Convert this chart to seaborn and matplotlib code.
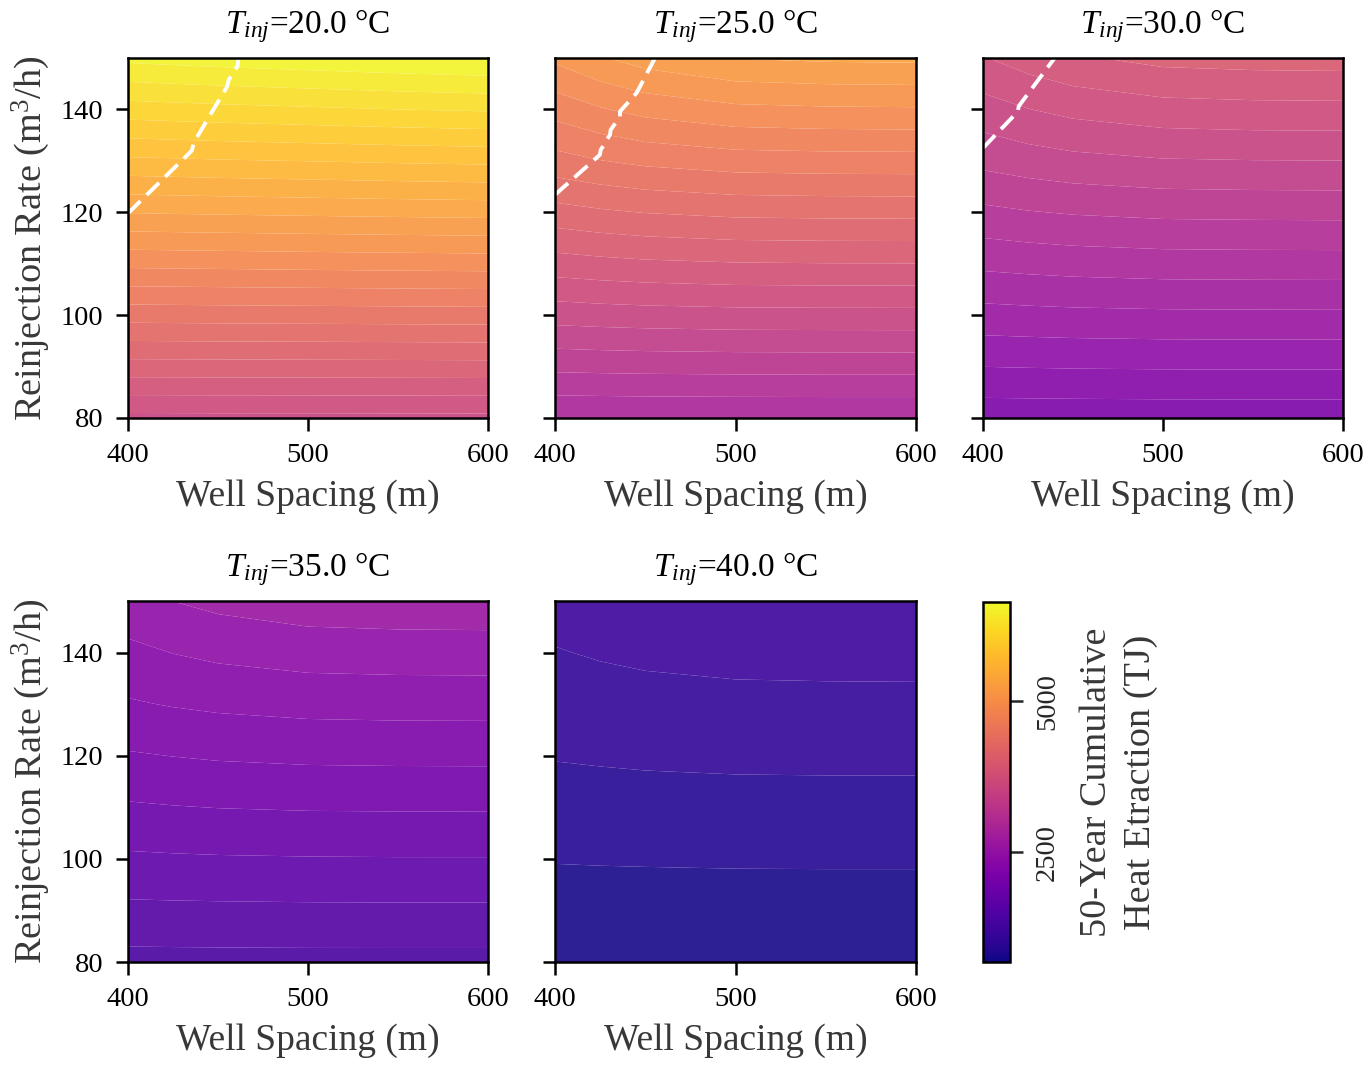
import numpy as np
import matplotlib
matplotlib.use("Agg")
import matplotlib.pyplot as plt
import matplotlib.colors as mcolors
import matplotlib.cm as mcm
import seaborn as sns

# ---------------- data ----------------
well_spacing = [400, 425, 450, 500, 550, 600]          # m
reinjection_rate = [80, 90, 100, 110, 120, 130, 140, 150]  # m3/h
injection_temps = [20.0, 25.0, 30.0, 35.0, 40.0]       # degC

# 50-year cumulative heat extraction (TJ); rows = rate, cols = spacing
heat_T20 = [
    [3543, 3544, 3545, 3545, 3546, 3547],
    [3983, 3984, 3985, 3987, 3989, 3991],
    [4416, 4419, 4422, 4426, 4430, 4434],
    [4848, 4852, 4856, 4864, 4871, 4877],
    [5278, 5285, 5291, 5302, 5312, 5321],
    [5701, 5710, 5720, 5735, 5751, 5764],
    [6121, 6134, 6147, 6169, 6191, 6208],
    [6538, 6555, 6572, 6600, 6628, 6651],
]
heat_T25 = [
    [2823, 2825, 2827, 2828, 2829, 2829],
    [3163, 3170, 3175, 3180, 3182, 3182],
    [3497, 3511, 3521, 3533, 3535, 3536],
    [3824, 3847, 3865, 3884, 3889, 3890],
    [4141, 4177, 4204, 4234, 4241, 4243],
    [4450, 4501, 4541, 4584, 4594, 4597],
    [4717, 4799, 4862, 4929, 4945, 4950],
    [4996, 5104, 5187, 5276, 5298, 5304],
]
heat_T30 = [
    [2107, 2108, 2109, 2111, 2111, 2111],
    [2361, 2366, 2370, 2374, 2375, 2375],
    [2610, 2620, 2628, 2636, 2638, 2639],
    [2854, 2871, 2884, 2899, 2902, 2903],
    [3091, 3118, 3138, 3160, 3165, 3167],
    [3321, 3360, 3389, 3421, 3429, 3431],
    [3521, 3582, 3629, 3679, 3692, 3695],
    [3729, 3810, 3872, 3938, 3954, 3959],
]
heat_T35 = [
    [1390, 1391, 1392, 1393, 1393, 1393],
    [1558, 1561, 1563, 1566, 1567, 1567],
    [1722, 1729, 1734, 1739, 1741, 1741],
    [1882, 1894, 1903, 1912, 1914, 1915],
    [2039, 2056, 2070, 2084, 2088, 2089],
    [2191, 2216, 2235, 2256, 2262, 2263],
    [2322, 2363, 2393, 2427, 2435, 2437],
    [2461, 2514, 2554, 2598, 2609, 2612],
]
heat_T40 = [
    [674, 674, 674, 675, 675, 675],
    [755, 757, 758, 760, 760, 760],
    [835, 838, 840, 843, 844, 844],
    [912, 918, 922, 927, 928, 928],
    [989, 997, 1004, 1011, 1013, 1013],
    [1062, 1074, 1084, 1094, 1096, 1097],
    [1126, 1146, 1161, 1177, 1181, 1182],
    [1193, 1218, 1238, 1259, 1265, 1266],
]

# thermal-breakthrough boundary (dashed lines)
boundary_T20_spacing = [400, 435.5, 436.5, 441, 455, 456, 460.8, 461.4]
boundary_T20_rate = [119.8, 132.0, 133.5, 136.2, 144.4, 145.8, 148.4, 150]
boundary_T25_spacing = [400, 424.9, 425.3, 430.5, 430.8, 436.0, 436.0, 445.2, 455.4]
boundary_T25_rate = [123.4, 131.2, 132.1, 135.1, 136.0, 138.6, 139.6, 143.2, 150]
boundary_T30_spacing = [400, 419.4, 419.8, 439.8]
boundary_T30_rate = [132.5, 139.6, 140.6, 150]

heat_tables = [heat_T20, heat_T25, heat_T30, heat_T35, heat_T40]
boundaries = [
    (boundary_T20_spacing, boundary_T20_rate),
    (boundary_T25_spacing, boundary_T25_rate),
    (boundary_T30_spacing, boundary_T30_rate),
    None,
    None,
]

x_ticks = [400, 500, 600]
y_ticks = [80, 100, 120, 140]
cbar_ticks = [2500, 5000]

# ---------------- style ----------------
sns.set_theme(style="ticks")
plt.rcParams["font.family"] = ["Liberation Serif", "DejaVu Serif"]
plt.rcParams["mathtext.fontset"] = "custom"
plt.rcParams["mathtext.rm"] = "Liberation Serif"
plt.rcParams["mathtext.it"] = "Liberation Serif:italic"
plt.rcParams["axes.linewidth"] = 1.8
plt.rcParams["axes.edgecolor"] = "black"

label_color = "#383838"
cmap = sns.color_palette("plasma", as_cmap=True)

all_vals = np.concatenate([np.asarray(t, dtype=float).ravel() for t in heat_tables])
vmin, vmax = all_vals.min(), all_vals.max()
levels = np.linspace(vmin, vmax, 40)

fig = plt.figure(figsize=(13.72, 10.71), dpi=100)
W, H = 1372.0, 1071.0

def frac_box(x0, y0, x1, y1):
    return [x0 / W, 1 - y1 / H, (x1 - x0) / W, (y1 - y0) / H]

panel_boxes = [
    frac_box(128, 58, 488, 418),
    frac_box(555, 58, 916, 418),
    frac_box(983, 58, 1343, 418),
    frac_box(128, 601, 488, 962),
    frac_box(555, 601, 916, 962),
]

for i, (temp, table, box) in enumerate(zip(injection_temps, heat_tables, panel_boxes)):
    ax = fig.add_axes(box)
    z = np.asarray(table, dtype=float)
    ax.contourf(well_spacing, reinjection_rate, z, levels=levels,
                cmap=cmap, alpha=0.9, antialiased=True)
    b = boundaries[i]
    if b is not None:
        ax.plot(b[0], b[1], color="white", lw=2.8, dashes=(4.5, 2.2),
                solid_capstyle="butt", dash_capstyle="butt")
    ax.set_xlim(400, 600)
    ax.set_ylim(80, 150)
    ax.set_xticks(x_ticks)
    ax.set_yticks(y_ticks)
    ax.tick_params(direction="out", length=9, width=1.8, labelsize=20.5,
                   colors="black", pad=9)
    ax.set_title(rf"$T_{{inj}}$={temp:.1f} °C", fontsize=24, pad=18, color="black")
    ax.set_xlabel("Well Spacing (m)", fontsize=27, color=label_color, labelpad=8)
    if i in (0, 3):
        ax.set_ylabel("Reinjection Rate (m$^3$/h)", fontsize=27.5,
                      color=label_color, labelpad=6)
    else:
        ax.set_yticklabels([])
    for sp in ax.spines.values():
        sp.set_linewidth(1.8)

cax = fig.add_axes(frac_box(983, 602, 1010, 962))
sm = mcm.ScalarMappable(norm=mcolors.Normalize(vmin=vmin, vmax=vmax), cmap=cmap)
sm.set_array([])
cb = fig.colorbar(sm, cax=cax, ticks=cbar_ticks)
cb.outline.set_linewidth(1.8)
cax.tick_params(direction="out", length=9, width=1.8, labelsize=20.5, pad=9)
for lab in cax.get_yticklabels():
    lab.set_rotation(90)
    lab.set_va("center")
cb.set_label("50-Year Cumulative\nHeat Etraction (TJ)", fontsize=27.5,
             color=label_color, labelpad=14, rotation=90, linespacing=1.35)

fig.savefig("out.png", dpi=100, facecolor="white")
